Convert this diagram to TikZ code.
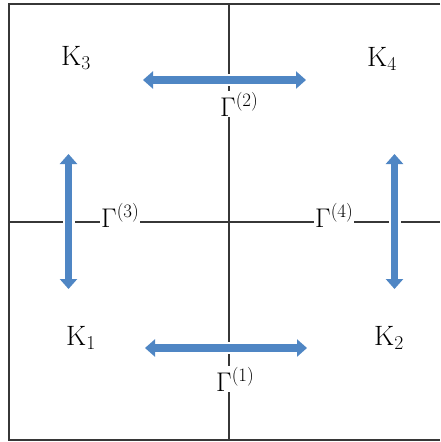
\RequirePackage{fix-cm}
\documentclass[tikz,border=0pt]{standalone}
\usetikzlibrary{arrows.meta}
\definecolor{flowblue}{RGB}{79,134,196}
\definecolor{rulegrey}{RGB}{55,55,55}
\begin{document}
\begin{tikzpicture}[
    x=1pt,y=-1pt,
    frame/.style={draw=rulegrey,line width=1.8pt},
    axis/.style={draw=rulegrey,line width=1.2pt},
    flow/.style={{Triangle[length=10pt,width=17pt]}-{Triangle[length=10pt,width=17pt]},
      draw=flowblue,line width=7.5pt,preaction={draw=white,line width=12pt,-}},
    region/.style={font=\fontsize{28}{32}\selectfont,anchor=base west,inner sep=0pt},
    gate/.style={font=\fontsize{27}{32}\selectfont,anchor=base west,inner sep=1pt,fill=white},
  ]
    \useasboundingbox (0,0) rectangle (440,442);
    % Frame open on the right, cut by the page edge; the two axes split it in four.
    \draw[frame] (440,4) -| (9,440) -- (440,440);
    \coordinate (top) at (229,4);
    \coordinate (bottom) at (229,440);
    \coordinate (west) at (9,222);
    \coordinate (east) at (440,222);
    \draw[axis] (top) -- (bottom);
    \draw[axis] (west) -- (east);
    % Exchange arrows between neighbouring quarters.
    \coordinate (g1a) at (145,348);
    \coordinate (g1b) at (307,348);
    \coordinate (g2a) at (143,80);
    \coordinate (g2b) at (306,80);
    \coordinate (g3a) at (68.5,154);
    \coordinate (g3b) at (68.5,289);
    \coordinate (g4a) at (394.5,154);
    \coordinate (g4b) at (394.5,289);
    \draw[flow] (g1a) -- (g1b);
    \draw[flow] (g2a) -- (g2b);
    \draw[flow] (g3a) -- (g3b);
    \draw[flow] (g4a) -- (g4b);
    \node[region] (k3) at (61,65) {$\mathrm{K}_3$};
    \node[region] (k4) at (367,66) {$\mathrm{K}_4$};
    \node[region] (k1) at (66,345) {$\mathrm{K}_1$};
    \node[region] (k2) at (374,345) {$\mathrm{K}_2$};
    \node[gate] (gam2) at (219,116) {$\Gamma^{(2)}$};
    \node[gate] (gam1) at (215,391) {$\Gamma^{(1)}$};
    \node[gate] (gam3) at (100,227) {$\Gamma^{(3)}$};
    \node[gate] (gam4) at (314,227) {$\Gamma^{(4)}$};
  \end{tikzpicture}
\end{document}
